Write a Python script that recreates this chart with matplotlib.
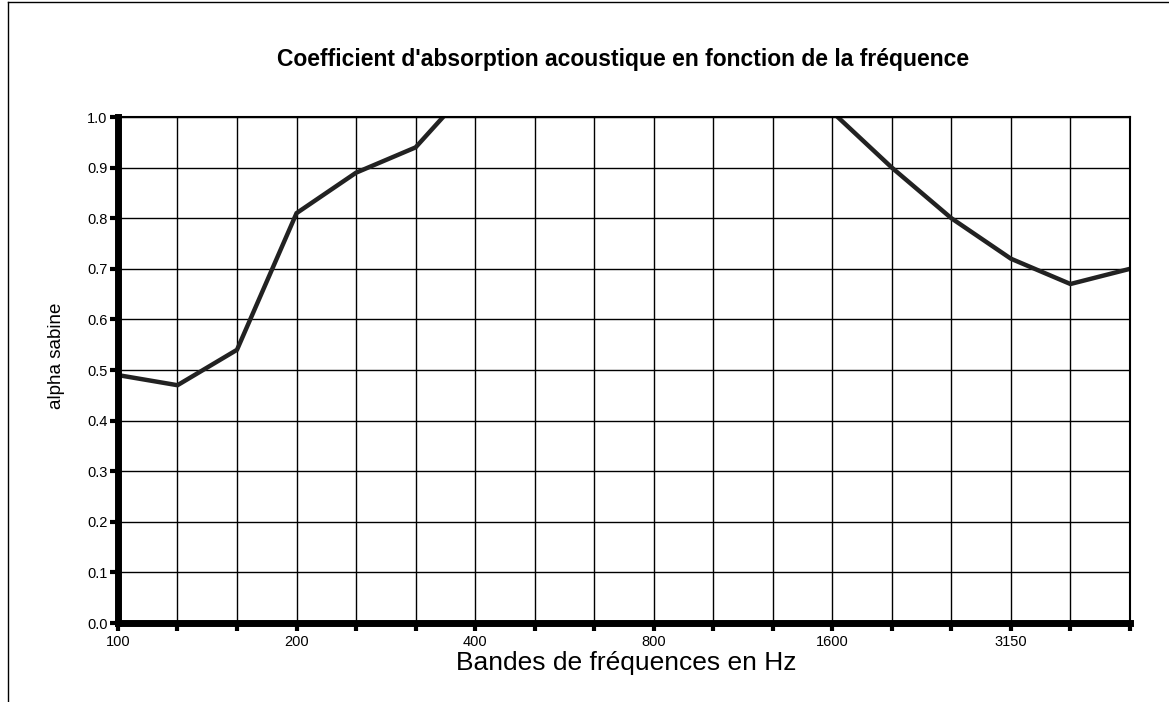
import matplotlib
matplotlib.use("Agg")
from matplotlib import pyplot as plt
from matplotlib.lines import Line2D
import numpy as np

plt.rcParams['font.family'] = ['Liberation Sans', 'DejaVu Sans']

bandes = ["100", "125", "160", "200", "250", "315", "400", "500", "630", "800",
          "1000", "1250", "1600", "2000", "2500", "3150", "4000", "5000"]
alpha = [0.49, 0.47, 0.54, 0.81, 0.89, 0.94, 1.07, 1.10, 1.12, 1.12,
         1.10, 1.06, 1.01, 0.90, 0.80, 0.72, 0.67, 0.70]
etiquettes = ["100", "", "", "200", "", "", "400", "", "", "800",
              "", "", "1600", "", "", "3150", "", ""]

x = np.arange(len(bandes))

fig = plt.figure(figsize=(11.69, 7.02), dpi=100)
ax = fig.add_axes([0.1009, 0.1125, 0.8657, 0.7208])

ax.plot(x, alpha, color='#222222', lw=3.2, solid_joinstyle='miter')

ax.set_xlim(0, len(bandes) - 1)
ax.set_ylim(0, 1.0)
ax.set_xticks(x)
ax.set_xticklabels(etiquettes, fontsize=10.5)
ax.set_yticks(np.arange(0, 1.01, 0.1))
ax.set_yticklabels(["%.1f" % v for v in np.arange(0, 1.01, 0.1)], fontsize=10.5)
ax.grid(True, color='black', lw=1.0)
ax.set_axisbelow(True)

for s in ['left', 'bottom']:
    ax.spines[s].set_linewidth(5)
for s in ['top', 'right']:
    ax.spines[s].set_linewidth(1.5)
ax.tick_params(axis='both', direction='out', length=5.5, width=3, color='black')
ax.tick_params(axis='x', pad=3)
ax.tick_params(axis='y', pad=2)

fig.text(0.5355, 0.0555, "Bandes de fréquences en Hz", fontsize=19,
         ha='center', va='center')
fig.text(0.048, 0.493, "alpha sabine", fontsize=13.5, rotation=90,
         ha='center', va='center')
fig.text(0.5333, 0.9053, "Coefficient d'absorption acoustique en fonction de la fréquence",
         fontsize=16.5, fontweight='bold', ha='center', va='baseline')

# cadre de la page (bords gauche et haut visibles)
fig.lines.append(Line2D([0.007, 0.007], [0.0, 0.997], transform=fig.transFigure,
                        color='black', lw=1.0))
fig.lines.append(Line2D([0.007, 1.0], [0.997, 0.997], transform=fig.transFigure,
                        color='black', lw=1.0))

fig.savefig('out.png', dpi=100)
